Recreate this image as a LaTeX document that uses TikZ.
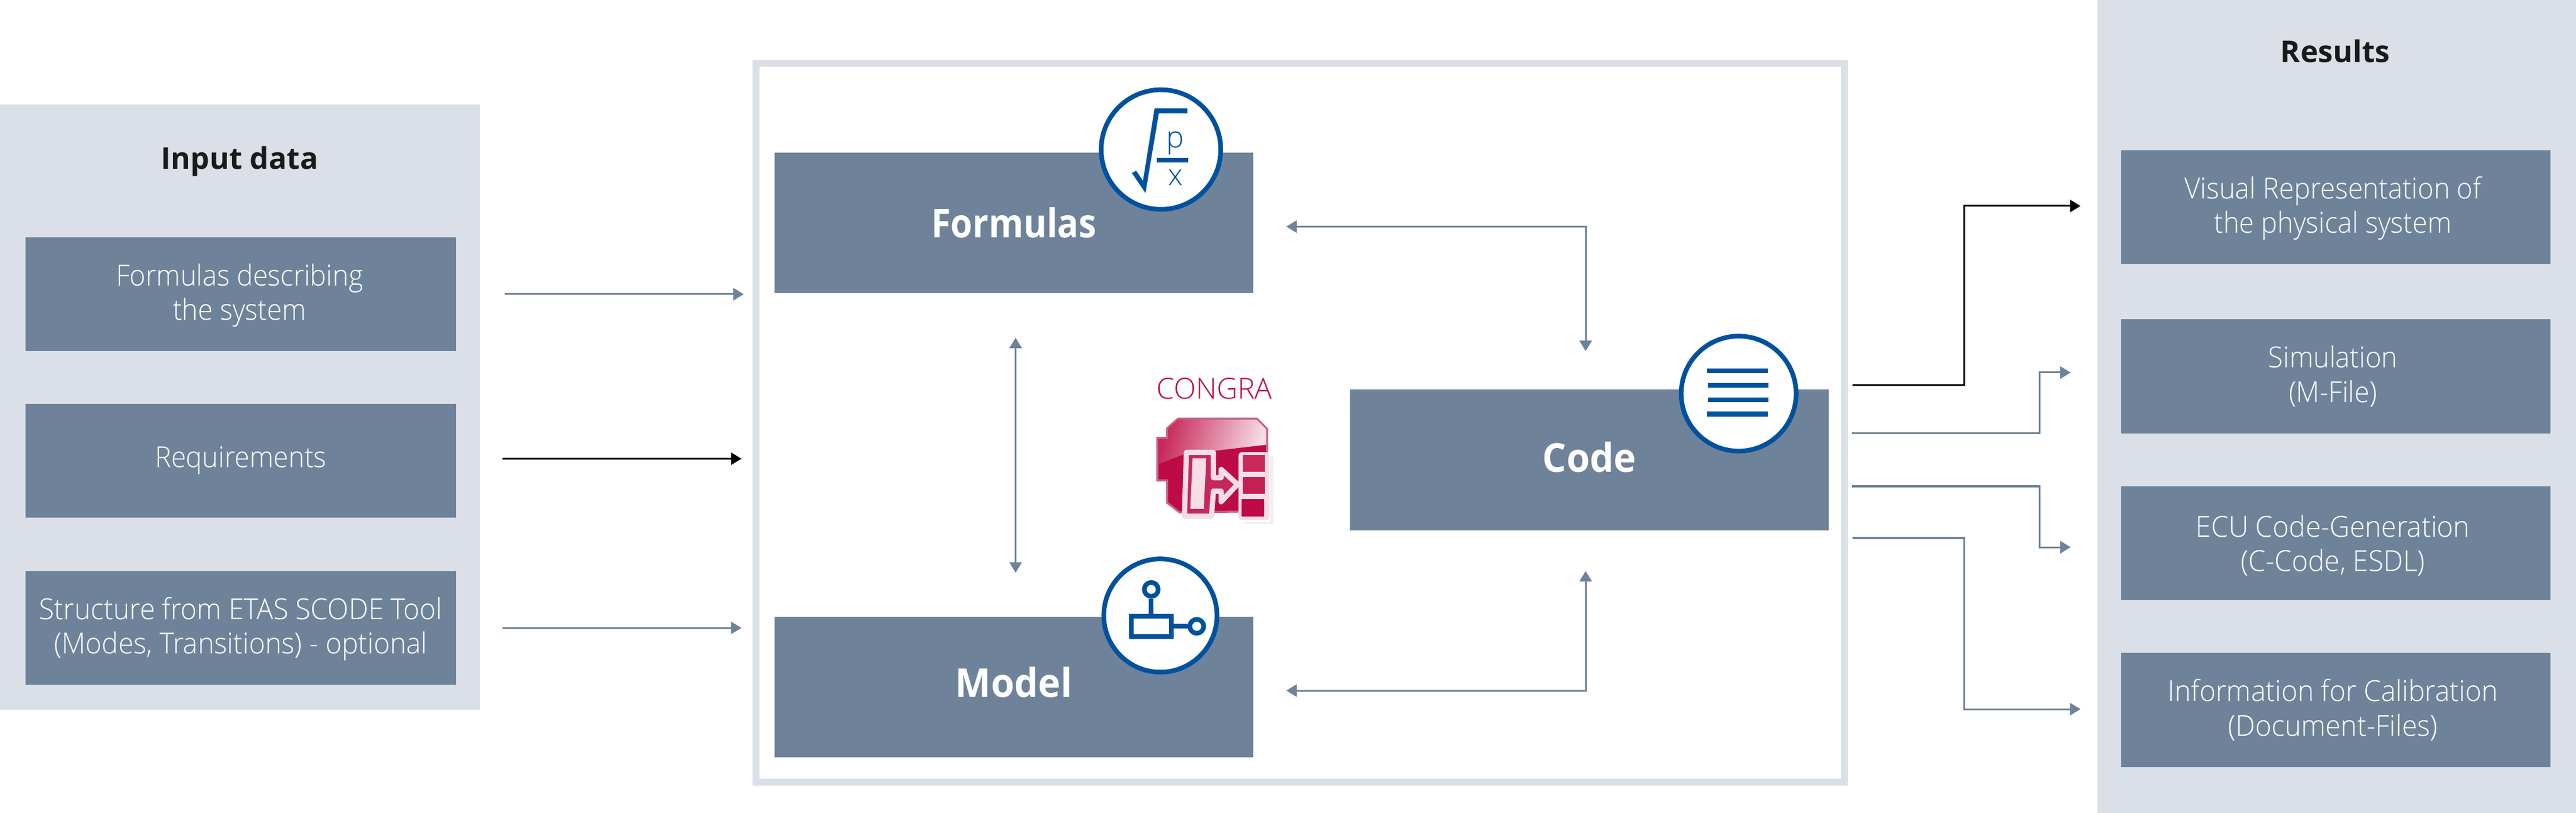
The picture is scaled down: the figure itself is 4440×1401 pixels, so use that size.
\documentclass[tikz,border=0pt]{standalone}
\usepackage{fontspec}
\setmainfont{Open Sans}[UprightFont=* Light,BoldFont=* Bold]
\newfontfamily\lightnarrow{Open Sans Light}[FakeStretch=.94]
\newfontfamily\lightwide{Open Sans Light}[FakeStretch=.958]
\usetikzlibrary{arrows.meta}
\definecolor{panel}{HTML}{DBE0E8}
\definecolor{slate}{HTML}{6E8399}
\definecolor{ring}{HTML}{00519E}
\definecolor{crimson}{HTML}{BE0A46}
\definecolor{crimsonB}{HTML}{C8285A}
\definecolor{crimsonP}{HTML}{F6DDE6}
\definecolor{crimsonE}{HTML}{C86085}
\definecolor{ink}{HTML}{1A1A1A}
% two-line label: [horizontal correction]{strut height}{first line}{second line}
\newcommand\tworows[4][0cm]{\rule{0pt}{#2}\hspace*{#1}#3\\\hspace*{#1}#4\rule[-.3cm]{0pt}{.3cm}}
\newcommand\strutted[3]{\rule[-#2]{0pt}{#2}\rule{0pt}{#1}#3}
\tikzset{
  x=0.01cm,y=-0.01cm,
  panelbox/.style={fill=panel,draw=none,anchor=north west,inner sep=0pt,outer sep=0pt},
  itembox/.style={fill=slate,draw=none,text=white,align=center,inner sep=0pt,outer sep=0pt,
    font=\fontsize{14.2}{17}\selectfont\lightnarrow,minimum width=7.40cm,minimum height=1.96cm},
  widerow/.style={font=\fontsize{14.2}{17}\selectfont\lightwide},
  corebox/.style={fill=slate,draw=none,text=white,inner sep=0pt,outer sep=0pt,
    font=\fontsize{19.5}{22}\selectfont\bfseries\addfontfeature{FakeStretch=.95},minimum height=2.42cm,minimum width=8.25cm},
  heading/.style={text=ink,anchor=base,inner sep=0pt,font=\fontsize{14.7}{17}\selectfont\bfseries},
  iconring/.style={circle,draw=ring,fill=white,line width=0.08cm,inner sep=0pt},
  iconline/.style={draw=ring,line width=0.08cm},
  iconport/.style={circle,draw=ring,line width=0.08cm,inner sep=0pt,minimum size=0.24cm},
  icontext/.style={text=ring,anchor=base,inner sep=0pt,font=\fontsize{14.5}{17}\selectfont},
  conn/.style={draw=slate,line width=0.03cm,-{Triangle[length=0.18cm,width=0.21cm]}},
  connb/.style={conn,{Triangle[length=0.18cm,width=0.21cm]}-{Triangle[length=0.18cm,width=0.21cm]}},
  connk/.style={draw=black,fill=none,line width=0.03cm,-{Triangle[length=0.18cm,width=0.21cm]}},
}
\begin{document}
\begin{tikzpicture}
\useasboundingbox (0,0) rectangle (4440,1401);
\fill[white] (0,0) rectangle (4440,1401);
% panels
\node[panelbox,minimum width=8.27cm,minimum height=10.42cm] (inputPanel) at (0,180) {};
\node[panelbox,minimum width=8.25cm,minimum height=14.01cm] (resultPanel) at (3615,0) {};
\node[draw=panel,fill=white,line width=0.12cm,anchor=north west,inner sep=0pt,outer sep=0pt,minimum width=18.75cm,minimum height=12.38cm] (frame) at (1302.5,109) {};
\node[heading] (inputTitle) at (413,292) {Input data};
\node[heading] (resultTitle) at (4025,108) {Results};
% input items
\node[itembox,minimum width=7.42cm] (inA) at (415,507) {\tworows[-.04cm]{.6cm}{Formulas describing}{the system}};
\node[itembox,minimum width=7.42cm] (inB) at (415,794) {\strutted{.55cm}{.33cm}{Requirements}};
\node[itembox,widerow,minimum width=7.42cm] (inC) at (415,1082) {\tworows{.6cm}{Structure from ETAS SCODE Tool}{(Modes, Transitions) - optional}};
% result items
\node[itembox] (outA) at (4026,357) {\tworows[-.1cm]{.6cm}{Visual Representation of}{the physical system}};
\node[itembox] (outB) at (4026,648.5) {\tworows[-.1cm]{.6cm}{Simulation}{(M-File)}};
\node[itembox,widerow] (outC) at (4026,936) {\tworows[-.1cm]{.68cm}{ECU Code-Generation}{(C-Code, ESDL)}};
\node[itembox,widerow] (outD) at (4026,1223.5) {\tworows[-.1cm]{.6cm}{Information for Calibration}{(Document-Files)}};
% core
\node[corebox] (formulas) at (1747.5,384) {\addfontfeature{FakeStretch=.89}\strutted{.7cm}{.2cm}{Formulas}};
\node[corebox] (model) at (1747.5,1184) {\strutted{.7cm}{.36cm}{Model}};
\node[corebox] (code) at (2739.5,792.5) {\strutted{.7cm}{.28cm}{Code}};
% formula icon
\node[iconring,minimum size=2.06cm] (iconF) at (2001,257.7) {};
\fill[ring] (1951,298.3) -- (1958.3,294) -- (1970,311.7) -- (1990,186.7) -- (2046.7,186.7) -- (2046.7,195.3) -- (1997.3,195.3) -- (1974.3,332.7) -- cycle;
\fill[ring] (1994,271.7) rectangle (2048.3,280);
\node[icontext] (iconP) at (2026,255) {p};
\node[icontext] (iconX) at (2026,320) {x};
% model icon
\node[iconring,minimum size=1.95cm] (iconM) at (2000,1060.7) {};
\draw[iconline] (1950,1062.3) rectangle (2018.7,1096.7);
\node[iconport] (nodeT) at (1984.3,1015.7) {};
\node[iconport] (nodeR) at (2062.7,1079.3) {};
\draw[iconline] (nodeT) -- (1984.3,1058.3);
\draw[iconline] (2022.7,1079.3) -- (nodeR);
% code icon
\node[iconring,minimum size=1.98cm] (iconC) at (2996.7,678.3) {};
\fill[ring] (2942.3,635.3) rectangle (3046.7,643.3);
\fill[ring] (2943.7,660) rectangle (3048,668.3);
\fill[ring] (2943.7,684.7) rectangle (3048,693);
\fill[ring] (2942.3,709.3) rectangle (3046.7,717.7);
% congra
\node[anchor=base,inner sep=0pt,text=crimson,font=\fontsize{14.2}{17}\selectfont] (congra) at (2093,688) {CONGRA};
\begin{scope}[shift={(1940,620)},x=0.00333cm,y=-0.00333cm]
  \fill[black,opacity=.06] (610,838) rectangle (765,850);
  \fill[black,opacity=.06] (748,500) rectangle (765,838);
  \path[fill=crimson,draw=crimsonE,line width=0.035cm] (272,305) -- (680,305) -- (733,358) -- (733,785) -- (280,790) -- (215,740) -- (215,625) -- (165,625) -- (165,405) -- (215,405) -- (215,355) -- cycle;
  \begin{scope}
    \clip (272,310) -- (678,310) -- (728,360) -- (728,440) -- (300,490) -- (170,540) -- (170,410) -- (220,410) -- (220,358) -- cycle;
    \shade[left color=crimsonB,right color=crimsonP,shading angle=75] (165,305) rectangle (733,540);
  \end{scope}
  \path[fill=crimson!88!white,draw=crimsonP,line width=0.09cm,line join=round] (315,480) -- (455,480) -- (455,610) -- (495,610) -- (495,568) -- (580,645) -- (495,735) -- (495,680) -- (455,680) -- (445,810) -- (305,810) -- cycle;
  \fill[crimsonP] (347,510) -- (418,510) -- (405,772) -- (335,772) -- cycle;
  \fill[crimsonP,rounded corners=0.06cm] (585,478) rectangle (745,830);
  \fill[crimsonB] (608,492) rectangle (722,580);
  \fill[crimsonB!70!crimson] (608,608) rectangle (722,695);
  \fill[crimson] (600,722) rectangle (718,812);
\end{scope}
% endpoints
\coordinate (iA) at (870,507);   \coordinate (iAe) at (1282,507);
\coordinate (iB) at (866,790.5); \coordinate (iBe) at (1278,790.5);
\coordinate (iC) at (866,1082);  \coordinate (iCe) at (1278,1082);
\coordinate (dT) at (1750.5,582); \coordinate (dB) at (1750.5,987);
\coordinate (fc) at (2217,390.5); \coordinate (cf) at (2733,605);
\coordinate (mc) at (2217,1190);  \coordinate (cm) at (2733,984);
\coordinate (rAs) at (3193,663.5); \coordinate (rAe) at (3586,355);
\coordinate (rBs) at (3192,746.5); \coordinate (rBe) at (3569,642);
\coordinate (rCs) at (3192,838);   \coordinate (rCe) at (3569,943);
\coordinate (rDs) at (3193,927);   \coordinate (rDe) at (3586,1222);
% connectors
\draw[conn] (iA) -- (iAe);
\draw[connk] (iB) -- (iBe);
\draw[conn] (iC) -- (iCe);
\draw[connb] (dT) -- (dB);
\draw[connb] (fc) -| (cf);
\draw[connb] (mc) -| (cm);
\draw[connk] (rAs) -- (3385,663.5) |- (rAe);
\draw[conn] (rBs) -- (3515,746.5) |- (rBe);
\draw[conn] (rCs) -- (3515,838) |- (rCe);
\draw[conn] (rDs) -- (3385,927) |- (rDe);
\end{tikzpicture}
\end{document}
